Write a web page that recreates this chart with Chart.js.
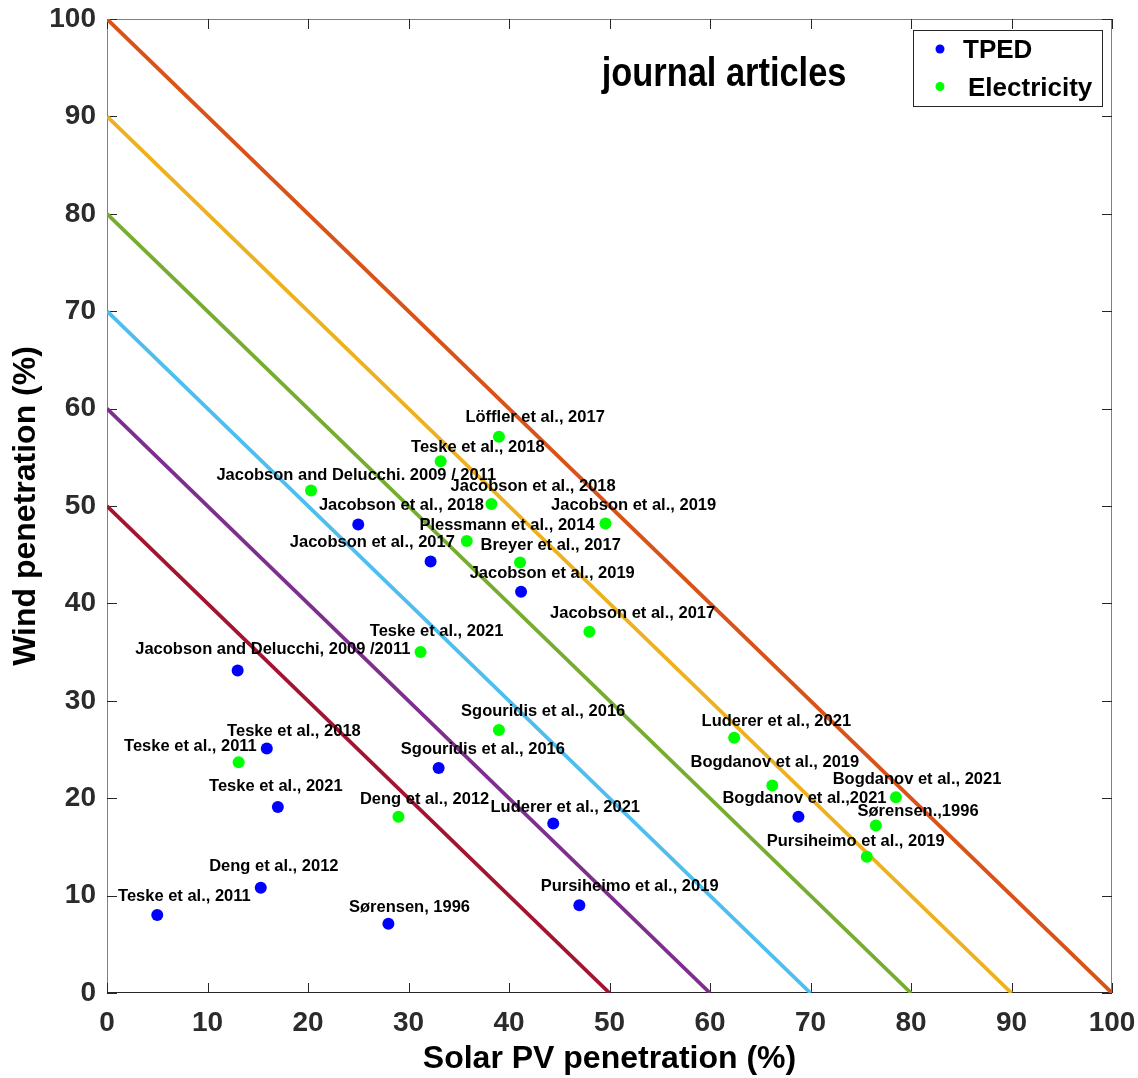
<!DOCTYPE html>
<html>
<head>
<meta charset="utf-8">
<script src="https://cdn.jsdelivr.net/npm/chart.js@4/dist/chart.umd.min.js"></script>
<style>
    html, body { margin: 0; padding: 0; background: #fff; }
    canvas { display: block; }
</style>
</head>
<body>
<canvas id="penetrationChart" width="1138" height="1078"></canvas>
<script>
"use strict";

/** DATA */

// Lines of constant total share (solar + wind)
const totalShares = [50, 60, 70, 80, 90, 100];

// TPED studies
const tpedLabels = [
    'Teske et al., 2011', 'Deng et al., 2012', 'Teske et al., 2018', 'Teske et al., 2021',
    'Sørensen, 1996', 'Sgouridis et al., 2016', 'Jacobson and Delucchi, 2009 /2011',
    'Jacobson et al., 2018', 'Jacobson et al., 2017', 'Jacobson et al., 2019',
    'Luderer et al., 2021', 'Pursiheimo et al., 2019', 'Bogdanov et al.,2021'
];
const tpedSolar = [5.0, 15.3, 15.9, 17.0, 28.0, 33.0, 13.0, 25.0, 32.2, 41.2, 44.4, 47.0, 68.8];
const tpedWind  = [8.0, 10.8, 25.1, 19.1, 7.1, 23.1, 33.1, 48.1, 44.3, 41.2, 17.4, 9.0, 18.1];
// where each text annotation sits (data units, like MATLAB text())
const tpedLabelX = [7.7, 16.6, 18.6, 16.8, 30.1, 37.4, 16.5, 29.3, 26.4, 44.3, 45.6, 52.0, 69.4];
const tpedLabelY = [9.9, 13.0, 26.9, 21.2, 8.8, 25.0, 35.25, 50.05, 46.3, 43.1, 19.0, 10.9, 20.0];

// Electricity studies
const elecLabels = [
    'Teske et al., 2011', 'Deng et al., 2012', 'Teske et al., 2021',
    'Jacobson and Delucchi. 2009 / 2011', 'Teske et al., 2018', 'Löffler et al., 2017',
    'Jacobson et al., 2018', 'Plessmann et al., 2014', 'Breyer et al., 2017',
    'Jacobson et al., 2019', 'Jacobson et al., 2017', 'Sgouridis et al., 2016',
    'Luderer et al., 2021', 'Bogdanov et al., 2019', 'Bogdanov et al., 2021',
    'Sørensen.,1996', 'Pursiheimo et al., 2019'
];
const elecSolar = [13.1, 29.0, 31.2, 20.3, 33.2, 39.0, 38.25, 35.8, 41.1, 49.6, 48.0, 39.0, 62.4, 66.2, 78.5, 76.5, 75.6];
const elecWind  = [23.7, 18.1, 35.0, 51.6, 54.6, 57.1, 50.2, 46.4, 44.2, 48.2, 37.1, 27.0, 26.2, 21.3, 20.1, 17.2, 14.0];
const elecLabelX = [8.3, 31.6, 32.8, 24.8, 36.9, 42.6, 42.4, 39.8, 44.15, 52.4, 52.3, 43.4, 66.6, 66.45, 80.6, 80.7, 74.5];
const elecLabelY = [25.3, 19.9, 37.1, 53.1, 56.0, 59.1, 52.0, 48.0, 46.0, 50.05, 38.95, 28.9, 27.9, 23.7, 21.9, 18.6, 15.6];

// Axis ticks
const axisTicks = [0, 10, 20, 30, 40, 50, 60, 70, 80, 90, 100];

const PANEL_TITLE = 'journal articles';
const PANEL_TITLE_POS = { x: 61.4, y: 95.1 };


/** STYLE */

const LINE_COLORS = {
    50: '#A2142F',
    60: '#7E2F8E',
    70: '#4DBEEE',
    80: '#77AC30',
    90: '#EDB120',
    100: '#D95319'
};
const TEXT_FONT = "'Liberation Sans', Arial, sans-serif";
const TICK_COLOR = '#2b2b2b';


/** PLUGINS */

// Box around the plot with inward ticks (MATLAB style)
const axesBoxPlugin = {
    id: 'axesBox',
    beforeDatasetsDraw(chart) {
        const { ctx, chartArea: a, scales: { x, y } } = chart;
        const len = 10;
        ctx.save();
        ctx.lineWidth = 1;

        // frame
        ctx.strokeStyle = '#808080';
        ctx.beginPath();
        ctx.moveTo(a.left + 0.5, a.bottom);
        ctx.lineTo(a.left + 0.5, a.top + 0.5);
        ctx.lineTo(a.right - 0.5, a.top + 0.5);
        ctx.lineTo(a.right - 0.5, a.bottom);
        ctx.stroke();
        ctx.strokeStyle = '#262626';
        ctx.beginPath();
        ctx.moveTo(a.left, a.bottom - 0.5);
        ctx.lineTo(a.right, a.bottom - 0.5);
        ctx.stroke();

        // ticks
        ctx.strokeStyle = '#262626';
        ctx.beginPath();
        axisTicks.forEach(v => {
            const px = Math.round(x.getPixelForValue(v)) + 0.5;
            ctx.moveTo(px, a.bottom);
            ctx.lineTo(px, a.bottom - len);
            ctx.moveTo(px, a.top);
            ctx.lineTo(px, a.top + len);
            const py = Math.round(y.getPixelForValue(v)) + 0.5;
            ctx.moveTo(a.left, py);
            ctx.lineTo(a.left + len, py);
            ctx.moveTo(a.right, py);
            ctx.lineTo(a.right - len, py);
        });
        ctx.stroke();
        ctx.restore();
    }
};

// Study name next to every point
const pointLabelsPlugin = {
    id: 'pointLabels',
    afterDatasetsDraw(chart) {
        const { ctx, scales: { x, y } } = chart;
        ctx.save();
        ctx.font = `bold 16.5px ${ TEXT_FONT }`;
        ctx.fillStyle = '#000';
        ctx.textAlign = 'center';
        ctx.textBaseline = 'middle';
        const put = (labels, lx, ly) => labels.forEach((txt, i) => {
            ctx.fillText(txt, x.getPixelForValue(lx[i]), y.getPixelForValue(ly[i]));
        });
        put(tpedLabels, tpedLabelX, tpedLabelY);
        put(elecLabels, elecLabelX, elecLabelY);
        ctx.restore();
    }
};

// Panel title and boxed legend inside the plot
const panelDecorPlugin = {
    id: 'panelDecor',
    afterDraw(chart) {
        const { ctx, chartArea: a, scales: { x, y } } = chart;
        ctx.save();

        // Title (narrow bold)
        ctx.font = `bold 40px ${ TEXT_FONT }`;
        ctx.fillStyle = '#000';
        ctx.textAlign = 'center';
        ctx.textBaseline = 'alphabetic';
        ctx.translate(x.getPixelForValue(PANEL_TITLE_POS.x), y.getPixelForValue(PANEL_TITLE_POS.y) + 19);
        ctx.scale(0.86, 1);
        ctx.fillText(PANEL_TITLE, 0, 0);
        ctx.setTransform(1, 0, 0, 1, 0, 0);

        // Legend
        const box = { left: a.right - 199, top: a.top + 11, width: 189, height: 76 };
        ctx.fillStyle = '#fff';
        ctx.fillRect(box.left, box.top, box.width, box.height);
        ctx.strokeStyle = '#262626';
        ctx.lineWidth = 1;
        ctx.strokeRect(box.left + 0.5, box.top + 0.5, box.width, box.height);

        const entries = chart.data.datasets.filter(d => d.inLegend);
        ctx.font = `bold 26px ${ TEXT_FONT }`;
        ctx.textAlign = 'left';
        ctx.textBaseline = 'middle';
        entries.forEach((d, i) => {
            const cy = box.top + 20 + i * 37.5;
            ctx.fillStyle = d.backgroundColor;
            ctx.beginPath();
            ctx.arc(box.left + 27, cy - 1, 4.5, 0, Math.PI * 2);
            ctx.fill();
            ctx.fillStyle = '#000';
            ctx.fillText(d.label, box.left + 50 + i * 5, cy + 1);
        });
        ctx.restore();
    }
};


/** DATASETS */

const toPoints = (xs, ys) => xs.map((v, i) => ({ x: v, y: ys[i] }));

const lineDatasets = totalShares.map(total => ({
    label: `${ total }%`,
    type: 'line',
    data: [{ x: 0, y: total }, { x: total, y: 0 }],
    borderColor: LINE_COLORS[total],
    borderWidth: 3.8,
    pointRadius: 0,
    showLine: true,
    fill: false,
    order: 2
}));

const pointDatasets = [
    {
        label: 'TPED',
        data: toPoints(tpedSolar, tpedWind),
        backgroundColor: '#0000FF',
        borderColor: '#0000FF',
        pointRadius: 6,
        borderWidth: 0,
        inLegend: true,
        order: 1
    },
    {
        label: 'Electricity',
        data: toPoints(elecSolar, elecWind),
        backgroundColor: '#00FF00',
        borderColor: '#00FF00',
        pointRadius: 6,
        borderWidth: 0,
        inLegend: true,
        order: 0
    }
];


/** INITIALIZE CHART */

const tickFont = { family: TEXT_FONT, size: 28, weight: 'bold' };
const titleFont = { family: TEXT_FONT, size: 32, weight: 'bold' };

// Fixed axis sizes, no extra label overflow padding
const fixScale = size => scale => {
    if (scale.isHorizontal()) scale.height = size;
    else scale.width = size;
    scale.paddingTop = 0;
    scale.paddingBottom = 0;
    scale.paddingLeft = 0;
    scale.paddingRight = 0;
};

const penetrationChart = new Chart(document.getElementById('penetrationChart').getContext('2d'), {
    type: 'scatter',
    data: { datasets: [...pointDatasets, ...lineDatasets] },
    options: {
        responsive: false,
        animation: false,
        events: [],
        layout: { padding: { top: 19, right: 26, left: 0, bottom: 0 } },
        plugins: {
            legend: { display: false },
            tooltip: { enabled: false }
        },
        scales: {
            x: {
                type: 'linear',
                min: 0,
                max: 100,
                afterFit: fixScale(85),
                afterBuildTicks: scale => { scale.ticks = axisTicks.map(v => ({ value: v })); },
                grid: { display: false, drawTicks: false },
                border: { display: false },
                ticks: {
                    font: tickFont,
                    color: TICK_COLOR,
                    padding: 13,
                    maxRotation: 0,
                    autoSkip: false
                },
                title: {
                    display: true,
                    text: 'Solar PV penetration (%)',
                    font: titleFont,
                    color: '#000',
                    padding: { top: 0, bottom: 0 }
                }
            },
            y: {
                type: 'linear',
                min: 0,
                max: 100,
                afterFit: fixScale(107),
                afterBuildTicks: scale => { scale.ticks = axisTicks.map(v => ({ value: v })); },
                grid: { display: false, drawTicks: false },
                border: { display: false },
                ticks: {
                    font: tickFont,
                    color: TICK_COLOR,
                    padding: 11,
                    autoSkip: false
                },
                title: {
                    display: true,
                    text: 'Wind penetration (%)',
                    font: titleFont,
                    color: '#000',
                    padding: { top: 7, bottom: 0 }
                }
            }
        }
    },
    plugins: [axesBoxPlugin, pointLabelsPlugin, panelDecorPlugin]
});
</script>
</body>
</html>
